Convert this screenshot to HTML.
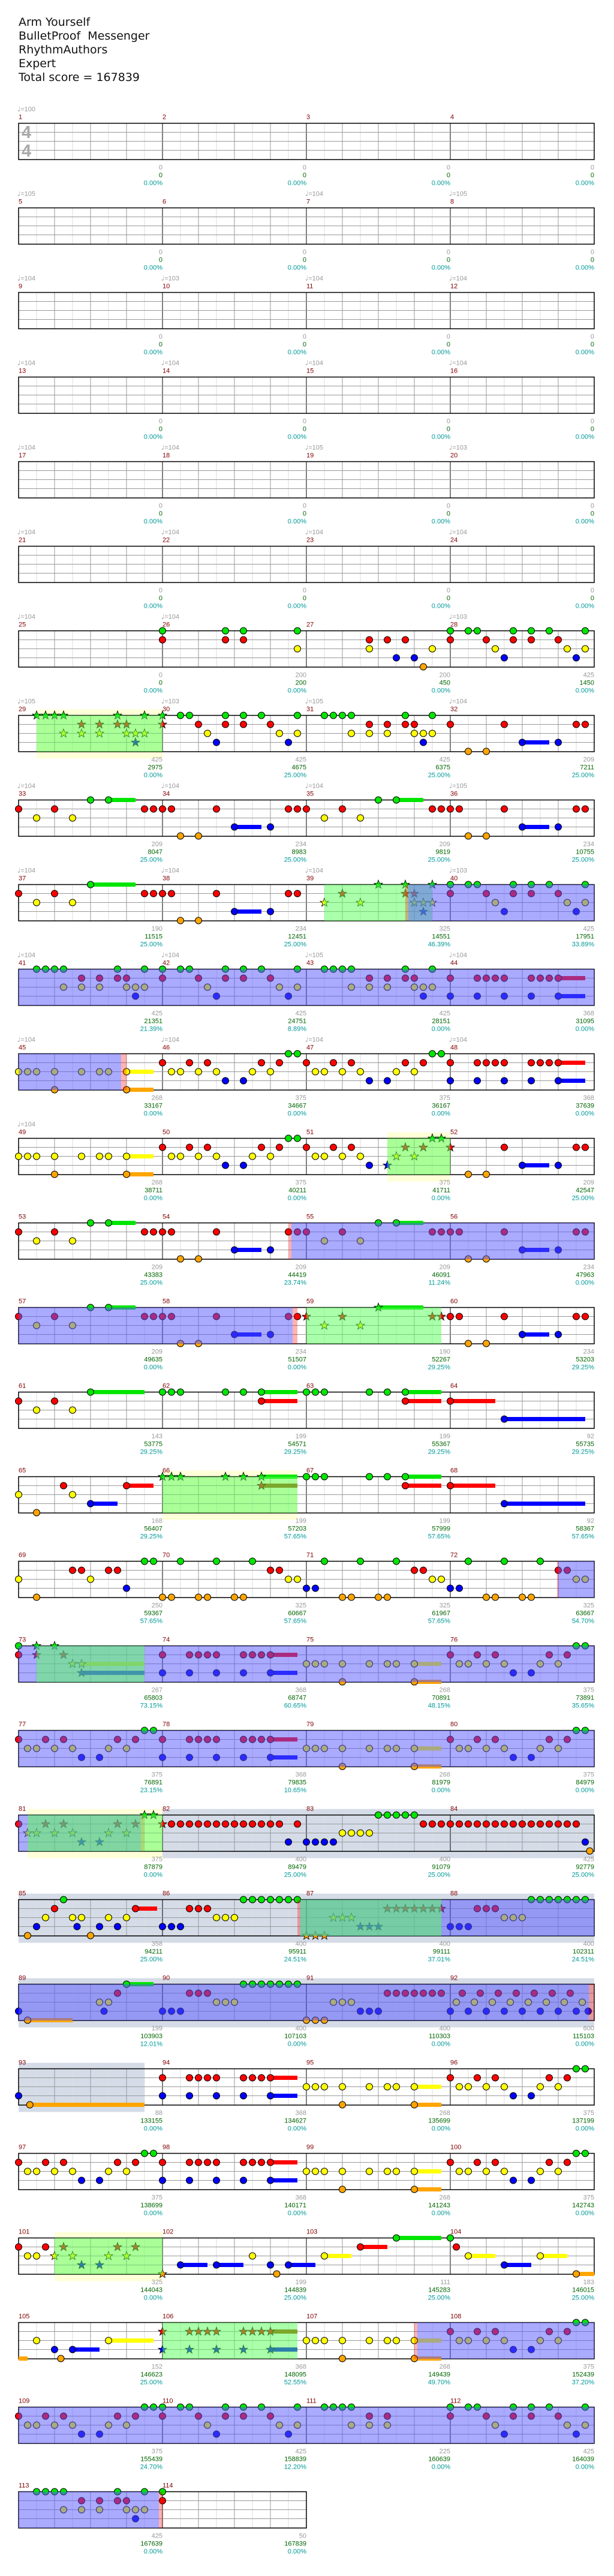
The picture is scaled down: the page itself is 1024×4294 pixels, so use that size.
<!DOCTYPE html>
<html><head><meta charset="utf-8"><style>
html,body{margin:0;padding:0;background:#fff;}
#t{position:absolute;left:31px;top:26px;font:19px/23px "DejaVu Sans",sans-serif;color:#111;white-space:pre;}
svg{position:absolute;left:0;top:0;}
</style></head><body>
<div id="t">Arm Yourself
BulletProof  Messenger
RhythmAuthors
Expert
Total score = 167839</div>
<svg id="s" width="1024" height="4294" xmlns="http://www.w3.org/2000/svg"></svg>
<script>
var P30="g0 r0 g2 g3 r4 y5 b6 g7 r7 g9 r9 g11 r12 y13 b14 g15 y15";
var P31="g2 g3 g4 g5 y5 r7 y7 r9 y9 g11 r11 r12 y12 b13 y13 g14 y14";
var P32="r0 o2 o4 r6 b8-11 b12 r14 r15";
var P33="r0 y2 r4 y6 g8 g10-13 r14 r15";
var P34="r0 r1 o2 o4 r6 b8-11 b12 r14 r15";
var P44="r0 b0 r3 b3 r4 r5 r6 b6 r9 b9 r10 r11 r12-15 b12-15";
var P45="y0 y1 y2 y4 o4 y7 y9 y10 y12-15 o12-15";
var P46="r0 y1 y2 r3 y4 r5 y6 b7 b9 y10 r11 y12 r13 g14 g15";
var P86="b0 b1 b2 r3 r4 r5 y6 y7 y8 g9 g10 g11 g12 g13 g14 g15";
var N={
26:"g0 r0 g7 r7 g9 r9 g15 y15",27:"r7 y7 r9 b10 r11 b12 o13 y14",28:P30,
29:"G2 G3 G4 G5 Y5 R7 Y7 R9 Y9 G11 R11 R12 Y12 B13 Y13 G14 Y14",
30:"G0 R0 g2 g3 r4 y5 b6 g7 r7 g9 r9 g11 r12 y13 b14 g15 y15",31:P31,32:P32,
33:P33,34:P34,35:P33,36:P34,37:"r0 y2 r4 y6 g8-13 r14 r15",38:P34,
39:"Y2 R4 Y6 G8 R11 G11 R12 Y12 B13 Y13 G14 Y14",40:P30,
41:P31.replace("g11","g11")+"",42:P30,43:P31,44:P44,
45:P45,46:P46,47:P46,48:P44,49:P45,50:P46,
51:"r0 y1 y2 r3 y4 r5 y6 b7 B9 Y10 R11 Y12 R13 G14 G15",52:"R0 o2 o4 r6 b8-11 b12 r14 r15",
53:P33,54:P34,55:P33,56:P34,57:P33,58:P34,59:"R0 Y2 R4 Y6 G8-13 R14 R15",60:P34,
61:"r0 y2 r4 y6 g8-14",62:"g0 g1 g2 g7 g9 g11-15 r11-15",63:"g0 g1 g2 g7 g9 g11-15 r11-15",64:"r0-5 b6-15",
65:"y0 o2 r5 y6 b8-11 r12-15",66:"G0 G1 G2 G7 G9 G11-15 R11-15",67:"g0 g1 g2 g7 g9 g11-15 r11-15",68:"r0-5 b6-15",
69:"y0 o2 r6 r7 y8 r10 r11 b12 g14 g15",70:"o0 o1 g2 o4 o5 g6 o8 o9 g10 r12 r13 y14 y15",
71:"b0 b1 g2 o4 o5 g6 o8 o9 g10 r12 r13 y14 y15",72:"b0 b1 g2 o4 o5 g6 o8 o9 g10 r12 r13 y14 y15",
73:"g0 r0 G2 R2 G4 R5 Y6 Y7-14 B7-14",74:P44,75:P45,76:P46,77:P46,78:P44,79:P45,80:P46,
81:"r0 Y1 Y2 R3 Y4 R5 Y6 B7 B9 Y10 R11 Y12 R13 G14 G15",
82:"R0 r1 r2 r3 r4 r5 r6 r7 r8 r9 r10 r11 r12 r13 b14 r15",
83:"b0 b1 b2 b3 y4 y5 y6 y7 g8 g9 g10 g11 g12 r13 r14 r15",
84:"r0 r1 r2 r3 r4 r5 r6 r7 r8 r9 r10 r11 r12 r13 r14 b15 o15.5",
85:"o1 b2 y3 r4 g5 y6 b6.5 y7 o8 b9 y10 b11 y12 r13-15.4",86:P86,
87:"O0 O1 O2 Y3 Y4 Y5 B6 B7 B8 R9 R10 R11 R12 R13 R14 R15",88:P86,
89:"b0 o1-6 y9 b9.5 y10 r11 g12-15",90:P86,91:"o0 o1 o2 y3 y4 y5 b6 b7 b8 r9 r10 r11 r12 r13 r14 r15",
92:"b0 y0.67 r1.33 b2 y2.67 r3.33 b4 y4.67 r5.33 b6 y6.67 r7.33 b8 y8.67 r9.33 b10 y10.67 r11.33 b12 y12.67 r13.33 b14 y14.67 b15.33",
93:"b0 o1.25-14",94:P44,95:P45,96:P46,97:P46,98:P44,99:P45,100:P46,
101:"r0 y1 y2 r3 Y4 R5 Y6 B7 B9 Y10 R11 Y12 R13",102:"O0 b2-5 b6-9 y10 b12 o12.7 b14-17",
103:"y2-5 r6-9 g10-15",104:"g0 r0.67 y2-5 b6-9 y10-13 o14-16",
105:"~o0-1 y2 b4 o4.7 b6-9 y10-15",106:"R0 B0 R3 B3 R4 R5 R6 B6 R9 B9 R10 R11 R12-15 B12-15",
107:P45,108:P46,109:P46,110:P30,111:"g2 g3 g4 g5 y5 r7 y7 r9 y9",112:P30,113:P31,114:"g0 r0"};
N[41]="g2 g3 g4 g5 y5 r7 y7 r9 y9 g11 r11 r12 y12 b13 y13 g14 y14";
N[113]=N[41];N[43]=P31;
var L="0/0/0.00%,200/200/0.00%,200/450/0.00%,425/1450/0.00%,425/2975/0.00%,425/4675/25.00%,425/6375/25.00%,209/7211/25.00%,209/8047/25.00%,234/8983/25.00%,209/9819/25.00%,234/10755/25.00%,190/11515/25.00%,234/12451/25.00%,325/14551/46.39%,425/17951/33.89%,425/21351/21.39%,425/24751/8.89%,425/28151/0.00%,368/31095/0.00%,268/33167/0.00%,375/34667/0.00%,375/36167/0.00%,368/37639/0.00%,268/38711/0.00%,375/40211/0.00%,375/41711/0.00%,209/42547/25.00%,209/43383/25.00%,209/44419/23.74%,209/46091/11.24%,234/47963/0.00%,209/49635/0.00%,234/51507/0.00%,190/52267/29.25%,234/53203/29.25%,143/53775/29.25%,199/54571/29.25%,199/55367/29.25%,92/55735/29.25%,168/56407/29.25%,199/57203/57.65%,199/57999/57.65%,92/58367/57.65%,250/59367/57.65%,325/60667/57.65%,325/61967/57.65%,325/63667/54.70%,267/65803/73.15%,368/68747/60.65%,268/70891/48.15%,375/73891/35.65%,375/76891/23.15%,368/79835/10.65%,268/81979/0.00%,375/84979/0.00%,375/87879/0.00%,400/89479/25.00%,400/91079/25.00%,425/92779/25.00%,358/94211/25.00%,400/95911/24.51%,400/99111/37.01%,400/102311/24.51%,199/103903/12.01%,400/107103/0.00%,400/110303/0.00%,600/115103/0.00%,88/133155/0.00%,368/134627/0.00%,268/135699/0.00%,375/137199/0.00%,375/138699/0.00%,368/140171/0.00%,268/141243/0.00%,375/142743/0.00%,325/144043/0.00%,199/144839/25.00%,111/145283/25.00%,183/146015/25.00%,152/146623/25.00%,368/148095/52.55%,268/149439/49.70%,375/152439/37.20%,375/155439/24.70%,425/158839/12.20%,225/160639/0.00%,425/164039/0.00%,425/167639/0.00%,50/167839/0.00%".split(",");
var TP={1:100,5:105,7:104,8:105,9:104,10:103,11:104,12:104,13:104,14:104,15:104,16:104,17:104,18:104,19:105,20:103,21:104,22:104,23:104,24:104,25:104,26:104,28:103,29:105,30:103,31:105,32:104,33:104,34:104,35:104,36:105,37:104,38:104,39:104,40:103,41:104,42:104,43:105,44:104,45:104,46:104,47:104,48:104,49:104};
// regions: row, type, x1, x2
var R=[[8,'yb',61,271],[8,'gr',61,271],[10,'gr',541,721],[10,'bl',681,991],[10,'pk',676,681],[11,'bl',31,991],
[12,'bl',31,202],[12,'pk',202,211],[13,'yb',646,751],[13,'gr',646,751],[14,'pk',481,486],[14,'bl',486,991],
[15,'bl',31,488],[15,'pk',488,496],[15,'gr',511,736],[17,'yb',271,496],[17,'gr',271,496],[18,'pk',929,932],[18,'bl',931,991],
[19,'bl',31,991],[19,'gr',61,241],[20,'bl',31,991],[21,'yb',46,271],[21,'gb',271,991],[21,'bl',31,235],[21,'pk',235,241],[21,'gr',46,271],
[22,'gb',31,991],[22,'pk',496,501],[22,'bl',501,991],[22,'gr',501,736],[23,'gb',31,991],[23,'bl',31,982],[23,'pk',982,991],
[24,'gb',31,241],[26,'yb',91,271],[26,'gr',91,271],[27,'gr',271,496],[27,'pk',691,696],[27,'bl',696,991],[28,'bl',31,991],
[29,'bl',31,265],[29,'pk',265,271]];
var C={g:'#00e600',r:'#ff0000',y:'#ffff00',b:'#0000ff',o:'#ffa500'};
var bands='',grid='',sus='',notes='',ov='',txt='';
function T(r){return 205.5+(r-1)*141;}
for(var i=0;i<R.length;i++){var q=R[i],t=T(q[0]);
 if(q[1]=='yb')bands+='<rect x="'+q[2]+'" y="'+(t-10)+'" width="'+(q[3]-q[2])+'" height="82" fill="#ffffd8"/>';
 else if(q[1]=='gb')bands+='<rect x="'+q[2]+'" y="'+(t-10)+'" width="'+(q[3]-q[2])+'" height="82" fill="#d5dce8"/>';
 else{var f=q[1]=='bl'?'rgba(85,85,255,0.5)':q[1]=='gr'?'rgba(85,255,85,0.5)':'rgba(255,0,0,0.3)';
 ov+='<rect x="'+q[2]+'" y="'+t+'" width="'+(q[3]-q[2])+'" height="60.5" fill="'+f+'"/>';}}
function star(x,y,c){var p=[];for(var k=0;k<10;k++){var a=-Math.PI/2+k*Math.PI/5,rr=k%2?3:7.5;p.push((x+rr*Math.cos(a)).toFixed(1)+','+(y+rr*Math.sin(a)).toFixed(1));}
 return '<polygon points="'+p.join(' ')+'" fill="'+c+'" stroke="#000" stroke-width="0.8"/>';}
for(var r=1;r<=29;r++){var t=T(r),n=(r==29)?2:4,x0=31,x1=31+n*240;
 for(var m=0;m<n;m++){var mx=31+m*240;
  for(var k=1;k<8;k++){var xx=mx+k*30;grid+='<line x1="'+xx+'" y1="'+t+'" x2="'+xx+'" y2="'+(t+60.5)+'" stroke="'+(k%2?'#dedede':'#999')+'"/>';}
  if(m>0)grid+='<line x1="'+mx+'" y1="'+t+'" x2="'+mx+'" y2="'+(t+60.5)+'" stroke="#000"/>';}
 for(var k=1;k<4;k++)grid+='<line x1="'+x0+'" y1="'+(t+k*15)+'" x2="'+x1+'" y2="'+(t+k*15)+'" stroke="#999"/>';
 grid+='<rect x="'+x0+'" y="'+t+'" width="'+(x1-x0)+'" height="60.5" fill="none" stroke="#000" stroke-width="1.5"/>';}
for(var mm=1;mm<=114;mm++){var r=Math.floor((mm-1)/4)+1,col=(mm-1)%4,mx=31+col*240,t=T(r),me=mx+240;
 if(TP[mm])txt+='<text x="'+(mx-2)+'" y="'+(t-20)+'" fill="#999" font-size="11" font-family="DejaVu Sans,sans-serif">\u2669<tspan font-family="Liberation Sans,sans-serif">='+TP[mm]+'</tspan></text>';
 txt+='<text x="'+(mx)+'" y="'+(t-7)+'" fill="#800000" font-size="11">'+mm+'</text>';
 var lb=mm<25?['0','0','0.00%']:L[mm-25].split('/');
 txt+='<text x="'+me+'" y="'+(t+77)+'" fill="#999" font-size="11" text-anchor="end">'+lb[0]+'</text>';
 txt+='<text x="'+me+'" y="'+(t+90)+'" fill="#006400" font-size="11" text-anchor="end">'+lb[1]+'</text>';
 txt+='<text x="'+me+'" y="'+(t+103)+'" fill="#009999" font-size="11" text-anchor="end">'+lb[2]+'</text>';
 var s=N[mm];if(!s)continue;var tk=s.split(' ');
 for(var j=0;j<tk.length;j++){var w=tk[j],bar=false;if(w[0]=='~'){bar=true;w=w.slice(1);}
  var mt=w.match(/^([gryboGRYBO])([\d.]+)(?:-([\d.]+))?$/);if(!mt)continue;
  var l=mt[1].toLowerCase(),st=mt[1]!=l,p=parseFloat(mt[2]),x=mx+p*15,lane='gryb o'.indexOf(l),y=t+(l=='o'?60:lane*15),c=C[l];
  if(mt[3]){var xe=mx+parseFloat(mt[3])*15;sus+='<rect x="'+x+'" y="'+(y-3.5)+'" width="'+(xe-x)+'" height="7" fill="'+(st&&l=='r'?'#a05000':c)+'"/>';}
  if(bar)continue;
  notes+=st?star(x,y,c):'<circle cx="'+x+'" cy="'+y+'" r="5.5" fill="'+c+'" stroke="#000" stroke-width="1"/>';}}
txt+='<text x="36" y="230" fill="#aaa" font-size="29" font-weight="bold">4</text><text x="36" y="261" fill="#aaa" font-size="29" font-weight="bold">4</text>';
document.getElementById('s').innerHTML='<g font-family="Liberation Sans,sans-serif">'+bands+grid+sus+notes+ov+txt+'</g>';
</script>
</body></html>
